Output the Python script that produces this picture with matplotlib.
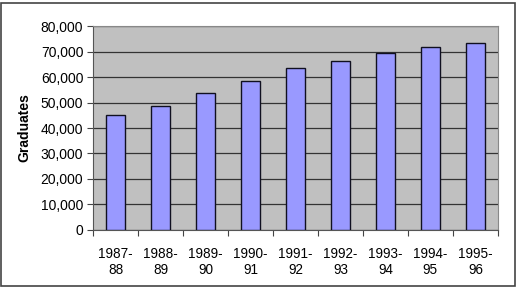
import matplotlib.pyplot as plt
import numpy as np
from matplotlib.patches import Rectangle
from matplotlib.ticker import FuncFormatter

years = ['1987-\n88', '1988-\n89', '1989-\n90', '1990-\n91', '1991-\n92',
         '1992-\n93', '1993-\n94', '1994-\n95', '1995-\n96']
graduates = [45000, 48700, 53900, 58500, 63400, 66500, 69300, 71900, 73200]

plt.rcParams['font.family'] = ['Liberation Sans', 'DejaVu Sans']

fig = plt.figure(figsize=(5.17, 2.87), dpi=100)
ax = fig.add_axes([0.18, 0.199, 0.783, 0.71])
ax.set_facecolor('#C0C0C0')

x = np.arange(len(years))
ax.bar(x, graduates, width=0.41, color='#9999FF', edgecolor='#101020',
       linewidth=1.0, zorder=3)

ax.set_xlim(-0.5, len(years) - 0.5)
ax.set_ylim(0, 80000)
ax.set_yticks(np.arange(0, 80001, 10000))
ax.yaxis.set_major_formatter(FuncFormatter(lambda v, p: f'{int(v):,}'))
ax.grid(axis='y', color='#333333', linewidth=0.9, zorder=1)

# category ticks sit between bars, labels centred under bars
ax.set_xticks(np.arange(-0.5, len(years)), minor=False)
ax.set_xticklabels([])
ax.set_xticks(x, minor=True)
ax.set_xticklabels(years, minor=True, linespacing=1.25)
ax.tick_params(axis='x', which='minor', length=0, pad=12, labelsize=9.75)
ax.tick_params(axis='x', which='major', length=4, color='#444444')
ax.tick_params(axis='y', length=4, color='#444444', labelsize=10, pad=3)

for side in ['top', 'right']:
    ax.spines[side].set_color('#888888')
    ax.spines[side].set_linewidth(0.8)
for side in ['left', 'bottom']:
    ax.spines[side].set_color('#555555')

ax.set_ylabel('Graduates', fontsize=10, fontweight='bold', labelpad=7)

fig.patches.append(Rectangle((0.001, 0.005), 0.995, 0.985, transform=fig.transFigure,
                             fill=False, edgecolor='#444444', linewidth=1.2))

fig.savefig('out.png', dpi=100)
